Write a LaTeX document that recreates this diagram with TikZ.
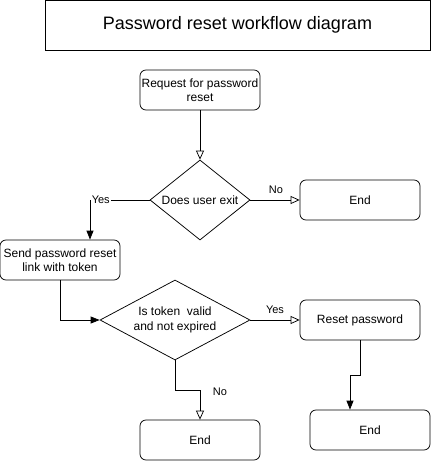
\documentclass[tikz,border=0pt]{standalone}
\usepackage{fontspec}
\setmainfont{Liberation Sans}
\usetikzlibrary{arrows.meta, shapes.geometric, positioning}

\begin{document}
\begin{tikzpicture}[
  x=1pt, y=-1pt,
  every node/.style={font=\fontsize{12}{14.5}\selectfont},
  stepbox/.style={draw, rounded corners=6pt, minimum width=120pt, minimum height=40pt, inner sep=1pt, align=center},
  titlebox/.style={draw, minimum width=385pt, minimum height=49.5pt, font=\fontsize{18}{20}\selectfont},
  decision/.style={draw, diamond, inner sep=0pt, align=center},
  label/.style={font=\fontsize{11}{13}\selectfont, inner sep=1pt},
  opentip/.style={-{Triangle[open, length=9pt, width=8pt]}},
  filltip/.style={-{Triangle[length=9pt, width=7pt]}},
  line width=0.75pt
]
\useasboundingbox (0,0) rectangle (431,461);

%title
\node[titlebox] (title) at (237.5,25.25) {Password reset workflow diagram};

%steps
\node[stepbox] (request) at (200,90) {Request for password\\reset};
\node[decision, minimum width=100pt, minimum height=80pt, aspect=1.25] (user) at (200,200) {Does user exit};
\node[stepbox] (endA) at (360,200) {End};
\node[stepbox] (send) at (60,260) {Send password reset\\link with token};
\node[decision, minimum width=150pt, minimum height=80pt, aspect=1.875] (token) at (175,320) {Is token\ \ valid\\and not expired};
\node[stepbox] (reset) at (360,320) {Reset password};
\node[stepbox] (endB) at (200,440) {End};
\node[stepbox] (endC) at (370,430) {End};

%bends
\coordinate (bendA) at (90,200);
\coordinate (bendB) at (175,390);
\coordinate (bendC) at (360,375);
\coordinate (bendD) at (350,375);

%connectors
\draw[opentip] (request) -- (user);
\draw[opentip] (user.east) -- (endA.west);
\node[label] (no1) at (276,190) {No};
\draw[filltip] (user.west) -- node[label, pos=0.82, fill=white] (yes1) {Yes} (bendA) -- (bendA |- send.north);
\draw[filltip] (send.south) |- (token.west);
\draw[opentip] (token.east) -- (reset.west);
\node[label] (yes2) at (275,310) {Yes};
\draw[opentip] (token.south) -- (bendB) -| (endB.north);
\node[label] (no2) at (220,392) {No};
\draw[filltip] (reset.south) -- (bendC) -- (bendD) -- (bendD |- endC.north);

\end{tikzpicture}
\end{document}
